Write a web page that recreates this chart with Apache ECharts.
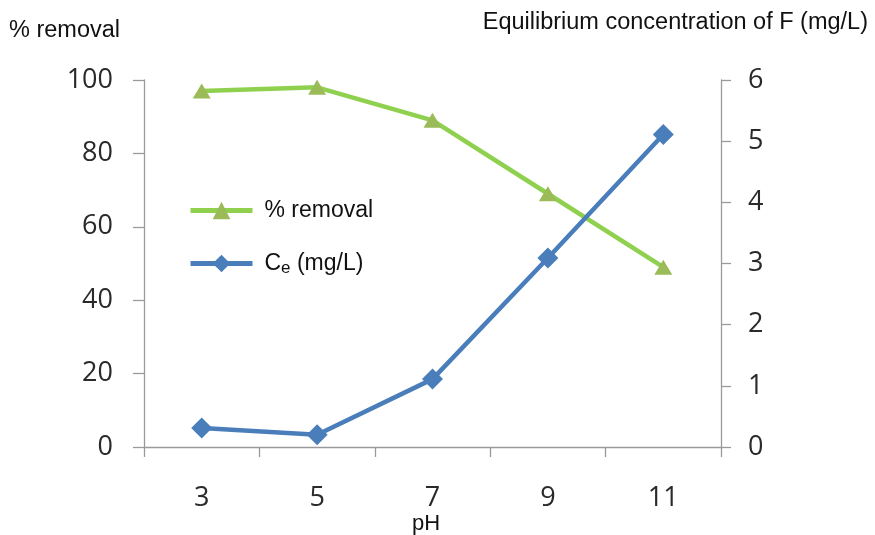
<!DOCTYPE html>
<html><head><meta charset="utf-8">
<script src="https://cdn.jsdelivr.net/npm/echarts@6/dist/echarts.min.js"></script>
<style>html,body{margin:0;padding:0;background:#fff}#c{width:875px;height:535px}</style>
</head><body><div id="c"></div>
<script>
var categories = ['3', '5', '7', '9', '11'];
var removal = [97, 98, 89, 69, 49];
var ce = [0.31, 0.2, 1.11, 3.09, 5.11];
var leftTicks = {min: 0, max: 100, interval: 20};
var rightTicks = {min: 0, max: 6, interval: 1};

var chart = echarts.init(document.getElementById('c'));
var axisLine = {show: true, lineStyle: {color: '#9a9a9a', width: 1.3}};
var tickFont = {color: '#2a2a2a', fontSize: 27, fontFamily: 'Open Sans'};
chart.setOption({
  animation: false,
  grid: {left: 144, right: 154, top: 80, bottom: 88},
  legend: {
    orient: 'vertical', left: 183, top: 194, itemWidth: 62, itemHeight: 22, itemGap: 30,
    textStyle: {fontSize: 23, fontFamily: 'Liberation Sans', color: '#111', padding: [0, 0, 0, 7],
      rich: {sub: {fontSize: 17, fontFamily: 'Liberation Sans', color: '#111', padding: [10, 0, 0, 0]}}},
    formatter: function (n) { return n === 'Ce' ? 'C{sub|e} (mg/L)' : n; },
    data: [
      {name: '% removal', lineStyle: {width: 5}},
      {name: 'Ce', lineStyle: {width: 5}}
    ]
  },
  xAxis: {
    type: 'category', data: categories, boundaryGap: true,
    axisLine: axisLine,
    axisTick: {show: true, length: 10, lineStyle: {color: '#9a9a9a', width: 1.3}},
    axisLabel: Object.assign({margin: 38}, tickFont),
    splitLine: {show: false}
  },
  yAxis: [
    {type: 'value', min: leftTicks.min, max: leftTicks.max, interval: leftTicks.interval, position: 'left',
     axisLine: axisLine, axisTick: {show: true, length: 11, lineStyle: {color: '#9a9a9a', width: 1.3}},
     axisLabel: Object.assign({margin: 31}, tickFont), splitLine: {show: false}},
    {type: 'value', min: rightTicks.min, max: rightTicks.max, interval: rightTicks.interval, position: 'right',
     axisLine: axisLine, axisTick: {show: true, length: 10, lineStyle: {color: '#9a9a9a', width: 1.3}},
     axisLabel: Object.assign({margin: 27}, tickFont), splitLine: {show: false}}
  ],
  series: [
    {name: '% removal', type: 'line', yAxisIndex: 0, data: removal,
     lineStyle: {color: '#8fd14f', width: 4.5}, itemStyle: {color: '#9bbb59'},
     symbol: 'triangle', symbolSize: [18, 15], showAllSymbol: true},
    {name: 'Ce', type: 'line', yAxisIndex: 1, data: ce,
     lineStyle: {color: '#4a7ebb', width: 4.5}, itemStyle: {color: '#4a7ebb'},
     symbol: 'diamond', symbolSize: [21, 21], showAllSymbol: true}
  ],
  graphic: [
    {type: 'text', left: 9, top: 19, style: {text: '% removal', fontSize: 23.5, fontFamily: 'Liberation Sans', fill: '#111'}},
    {type: 'text', right: 7, top: 11, style: {text: 'Equilibrium concentration of F (mg/L)', fontSize: 23.5, fontFamily: 'Liberation Sans', fill: '#111'}},
    {type: 'text', left: 412, top: 513, style: {text: 'pH', fontSize: 22, fontFamily: 'Liberation Sans', fill: '#111'}}
  ]
});
</script></body></html>
